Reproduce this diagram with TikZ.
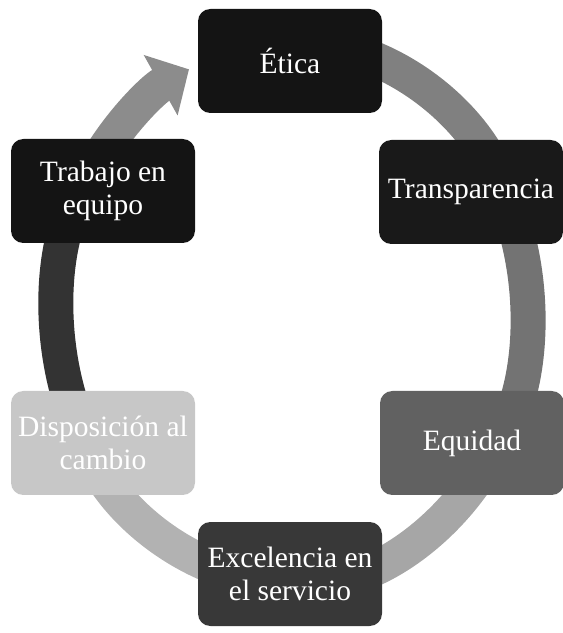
\documentclass[tikz,border=0pt]{standalone}
\usepackage{fontspec}
\setmainfont{Liberation Serif}
\usetikzlibrary{arrows.meta}
\tikzset{
  valuebox/.style={rounded corners=7pt, minimum width=3.68cm, minimum height=2.08cm,
    text=white, align=center, font=\fontsize{16.8}{18.5}\selectfont, inner sep=2pt},
  ringarc/.style={line width=0.7cm, -{Triangle[width=1.35cm,length=0.65cm]}},
}
\begin{document}
\begin{tikzpicture}
  \useasboundingbox (0,0) rectangle (11.26,12.66);
  \coordinate (ctr) at (5.84,6.42);
  \draw[ringarc,black!50] (ctr) ++(80:4.7 and 5.4) arc[start angle=80, end angle=22, x radius=4.7, y radius=5.4];
  \draw[ringarc,black!55] (ctr) ++(22:4.7 and 5.4) arc[start angle=22, end angle=-32, x radius=4.7, y radius=5.4];
  \draw[ringarc,black!35] (ctr) ++(-35:4.7 and 5.4) arc[start angle=-35, end angle=-88, x radius=4.7, y radius=5.4];
  \draw[ringarc,black!30] (ctr) ++(-100:4.7 and 5.4) arc[start angle=-100, end angle=-155, x radius=4.7, y radius=5.4];
  \draw[ringarc,black!80] (ctr) ++(202:4.7 and 5.4) arc[start angle=202, end angle=150, x radius=4.7, y radius=5.4];
  \draw[ringarc,black!45] (ctr) ++(145:4.7 and 5.4) arc[start angle=145, end angle=116, x radius=4.7, y radius=5.4];
  \node[valuebox,fill=black!92] (etica) at (5.80,11.44) {Ética};
  \node[valuebox,fill=black!90] (transp) at (9.42,8.82) {Transparencia};
  \node[valuebox,fill=black!62] (equidad) at (9.44,3.80) {Equidad};
  \node[valuebox,fill=black!78] (excel) at (5.80,1.18) {Excelencia en\\el servicio};
  \node[valuebox,fill=black!22] (dispo) at (2.06,3.80) {Disposición al\\cambio};
  \node[valuebox,fill=black!92] (trabajo) at (2.06,8.84) {Trabajo en\\equipo};
\end{tikzpicture}
\end{document}
